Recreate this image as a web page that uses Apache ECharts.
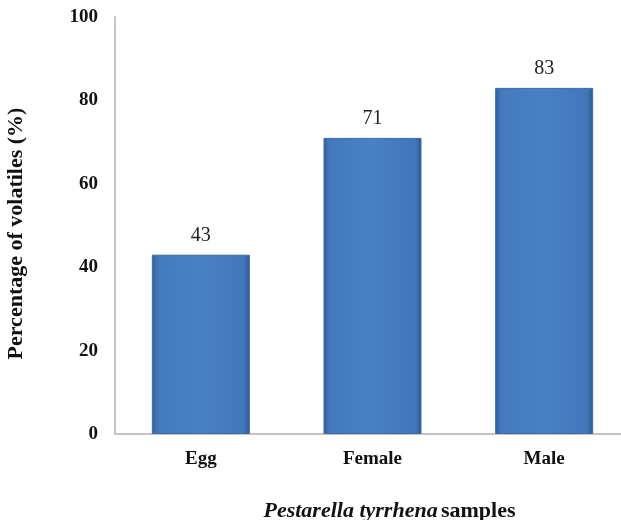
<!DOCTYPE html>
<html>
<head>
<meta charset="utf-8">
<script src="https://cdn.jsdelivr.net/npm/echarts@6/dist/echarts.min.js"></script>
<style>
  html, body { margin: 0; padding: 0; background: #fff; }
  #chart { width: 621px; height: 520px; }
</style>
</head>
<body>
<div id="chart"></div>
<script>
// Sample groups and their share of volatiles
const categories = ['Egg', 'Female', 'Male'];
const volatiles = [43, 71, 83];
const yTicks = [0, 20, 40, 60, 80, 100];

const serif = '"Liberation Serif", "Times New Roman", serif';

const chart = echarts.init(document.getElementById('chart'));
chart.setOption({
  animation: false,
  backgroundColor: '#ffffff',
  // plot area runs a little past the right edge of the canvas
  grid: {
    left: 115, width: 515, top: 17, bottom: 86,
    containLabel: false, outerBoundsMode: 'none'
  },
  xAxis: {
    type: 'category',
    data: categories,
    axisLine: { lineStyle: { color: '#c4c4c4', width: 2 } },
    axisTick: { show: false },
    axisLabel: {
      margin: 16,
      fontFamily: serif, fontWeight: 'bold', fontSize: 19, color: '#111'
    },
    name: '{i|Pestarella tyrrhena} {b|samples}',
    nameLocation: 'middle',
    nameGap: 66,
    nameTextStyle: {
      padding: [0, 0, 0, 34],
      rich: {
        i: { fontFamily: serif, fontStyle: 'italic', fontWeight: 'bold', fontSize: 22, color: '#111' },
        b: { fontFamily: serif, fontWeight: 'bold', fontSize: 22, color: '#111' }
      }
    }
  },
  yAxis: {
    type: 'value',
    min: yTicks[0],
    max: yTicks[yTicks.length - 1],
    interval: yTicks[1] - yTicks[0],
    axisLine: { show: true, lineStyle: { color: '#c4c4c4', width: 2 } },
    axisTick: { show: false },
    splitLine: { show: false },
    axisLabel: {
      margin: 17,
      fontFamily: serif, fontWeight: 'bold', fontSize: 19, color: '#111'
    },
    name: 'Percentage of volatiles (%)',
    nameLocation: 'middle',
    nameGap: 88,
    nameTextStyle: {
      fontFamily: serif, fontWeight: 'bold', fontSize: 22, color: '#111',
      padding: [0, 16, 0, 0]
    }
  },
  series: [{
    type: 'bar',
    data: volatiles,
    barWidth: 98,
    itemStyle: {
      color: new echarts.graphic.LinearGradient(0, 0, 1, 0, [
        { offset: 0, color: '#2f5f9e' },
        { offset: 0.06, color: '#4379bd' },
        { offset: 0.5, color: '#4a80c4' },
        { offset: 0.94, color: '#4177ba' },
        { offset: 1, color: '#2b5890' }
      ]),
      borderColor: '#3a6aa8',
      borderWidth: 1
    },
    label: {
      show: true,
      position: 'top',
      distance: 9,
      fontFamily: serif,
      fontSize: 20,
      color: '#222'
    }
  }]
});
</script>
</body>
</html>
